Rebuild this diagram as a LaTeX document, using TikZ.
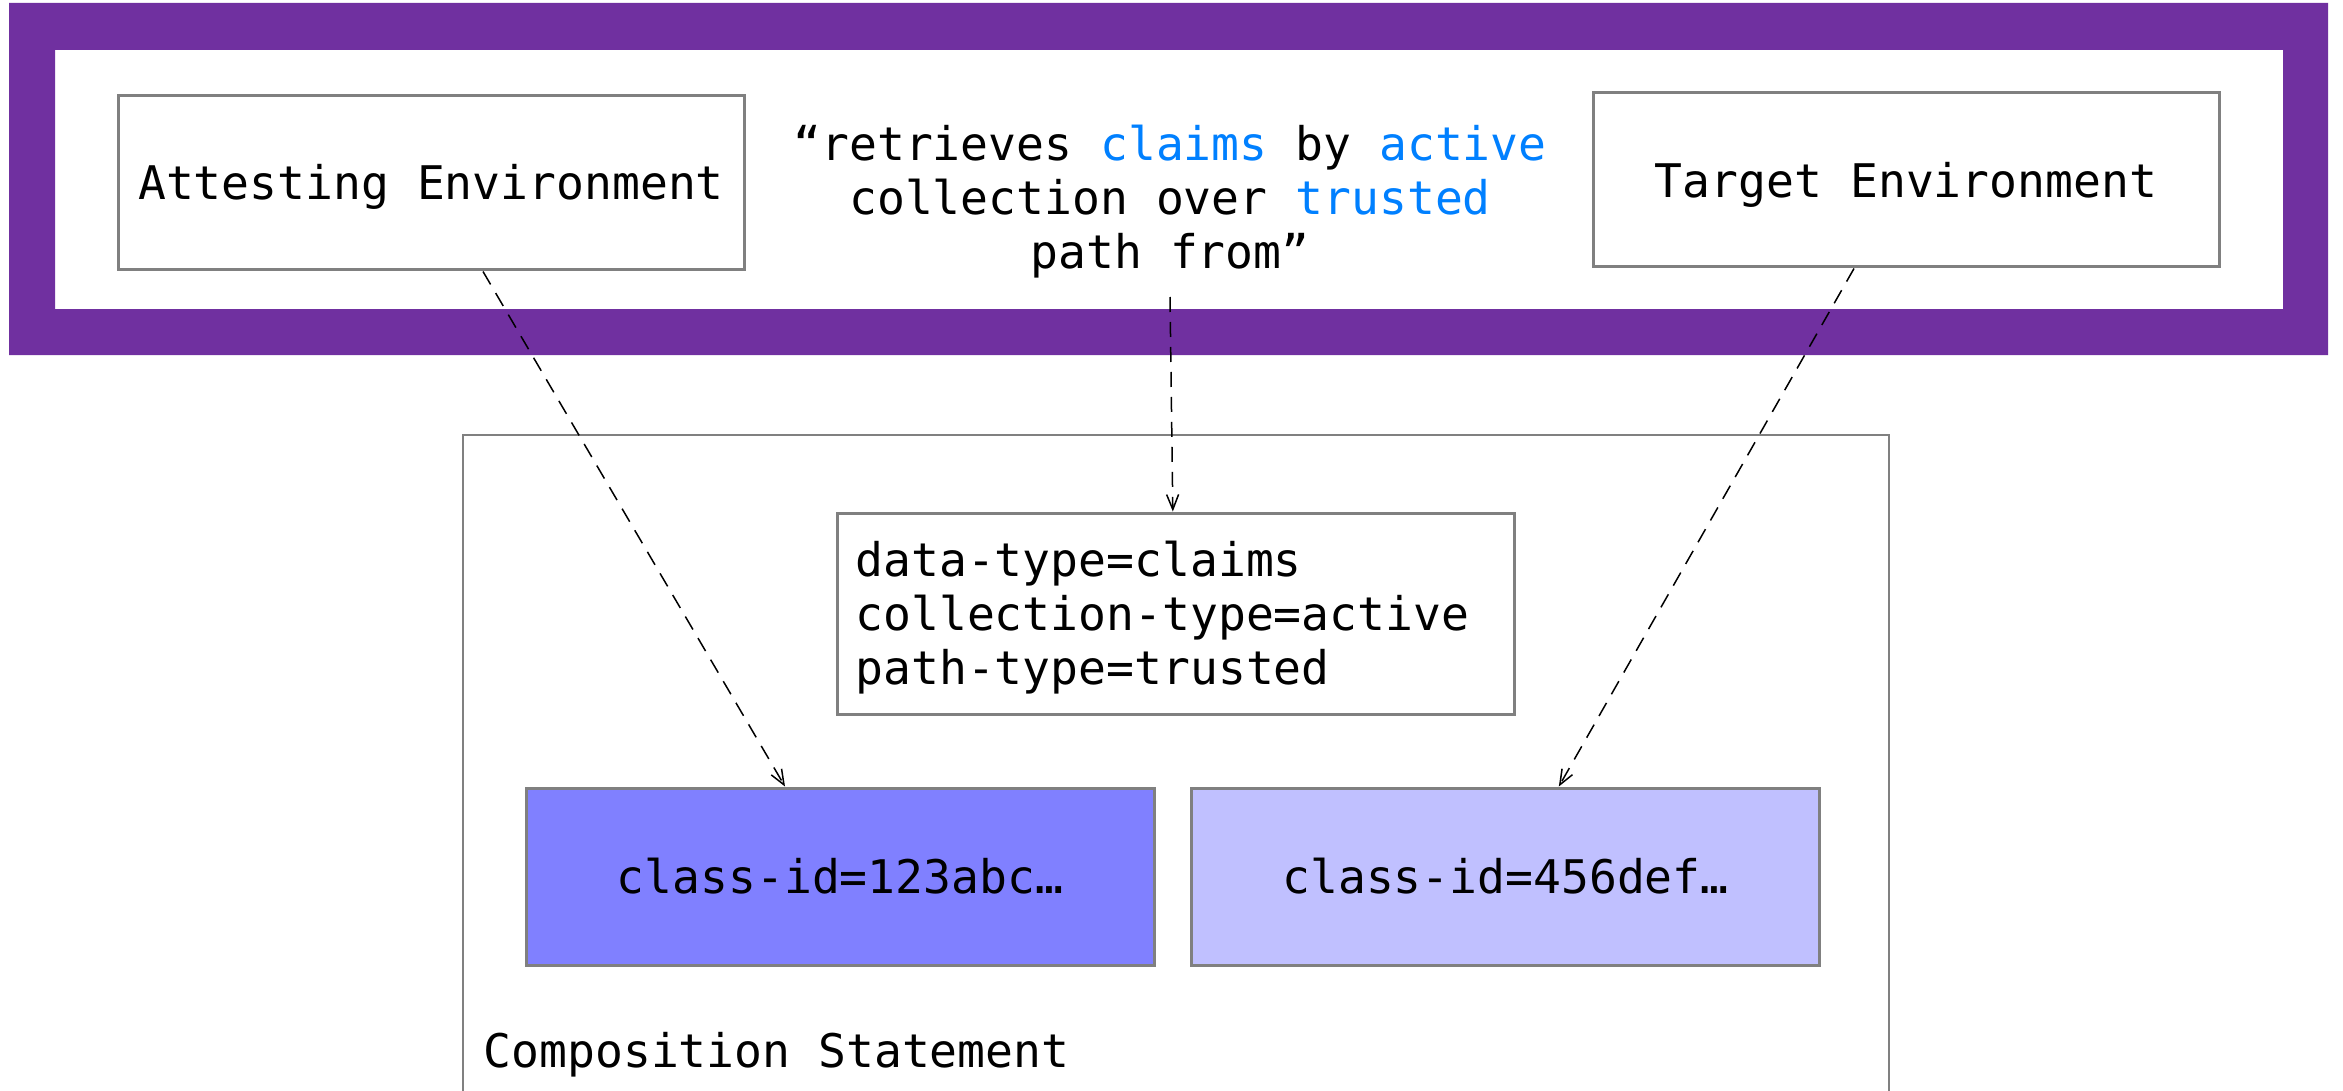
\documentclass[tikz,border=0pt]{standalone}
\usepackage{fontspec}
\newfontfamily\dmono{DejaVu Sans Mono}
\usetikzlibrary{arrows.meta,calc}
\definecolor{framepurple}{HTML}{7030A0}
\definecolor{keyblue}{HTML}{0080FF}
\definecolor{boxgray}{HTML}{808080}
\definecolor{classdark}{HTML}{8080FF}
\definecolor{classlight}{HTML}{C0C0FF}
\tikzset{
  txt/.style={font=\dmono\fontsize{13.9pt}{16.2pt}\selectfont, text=black},
  envbox/.style={txt, draw=boxgray, line width=0.9pt, fill=white,
    minimum width=187.8pt, minimum height=52.2pt, inner sep=0pt,
    text height=10.6pt, text depth=0.4pt},
  databox/.style={txt, draw=boxgray, line width=0.9pt, fill=white,
    minimum width=203.1pt, minimum height=60.3pt, text width=192pt,
    align=left, inner sep=0pt, text height=12pt, text depth=34.4pt},
  classbox/.style={txt, draw=boxgray, line width=0.9pt,
    minimum width=188.4pt, minimum height=53.1pt, inner sep=0pt},
  link/.style={draw=black, line width=0.45pt, dash pattern=on 4.5pt off 3pt,
    -{Straight Barb[length=4.5pt,width=3.6pt]}}
}
\begin{document}
\begin{tikzpicture}[x=0.3pt, y=-0.3pt]
  \useasboundingbox (0,0) rectangle (2343,1091);
  \fill[white] (0,0) rectangle (2343,1091);

  % attestation frame
  \fill[framepurple, even odd rule] (9,3) rectangle (2328,355)
                                    (55,50) rectangle (2283,309);

  % composition statement container (open at the bottom)
  \draw[boxgray, line width=0.45pt] (463,1100) -- (463,435) -- (1889,435) -- (1889,1100);
  \node[txt, anchor=west, inner sep=0pt] (comp) at (483,1055) {Composition Statement};

  % environments and the relation between them
  \node[envbox] (att) at (431,183) {Attesting Environment};
  \node[envbox] (tgt) at (1906,180) {Target Environment};
  \node[txt, align=center, inner sep=0pt] (quote) at (1170,202)
    {“retrieves {\color{keyblue}claims} by {\color{keyblue}active}\\
     collection over {\color{keyblue}trusted}\\
     path from”};
  \coordinate (qfoot) at ($(quote.center)+(0,95)$);

  % statement contents
  \node[databox] (data) at (1175.5,613.5)
    {data-type=claims\\collection-type=active\\path-type=trusted};
  \node[classbox, fill=classdark] (c1) at (840,876.5) {class-id=123abc…};
  \node[classbox, fill=classlight] (c2) at (1505.5,876.5) {class-id=456def…};

  % mappings
  \draw[link] ([xshift=15.6pt]att.south) -- ([xshift=-16.5pt]c1.north);
  \draw[link] (qfoot) -- ([xshift=-0.8pt]data.north);
  \draw[link] ([xshift=-15.6pt]tgt.south) -- ([xshift=16pt]c2.north);
\end{tikzpicture}
\end{document}
